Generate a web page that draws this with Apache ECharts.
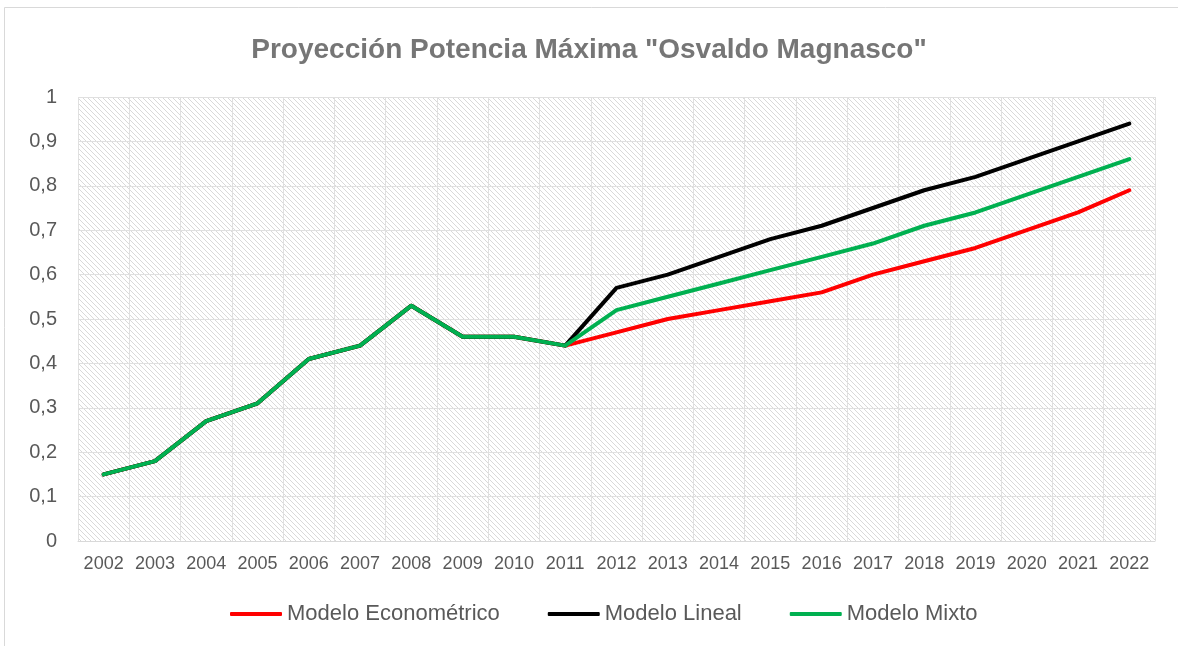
<!DOCTYPE html>
<html>
<head>
<meta charset="utf-8">
<title>Proyección Potencia Máxima</title>
<script src="https://cdn.jsdelivr.net/npm/echarts@6/dist/echarts.min.js"></script>
<style>
  html, body { margin: 0; padding: 0; background: #fff; }
  #main { width: 1178px; height: 646px; }
</style>
</head>
<body>
<div id="main"></div>
<script>
// años
var years = ['2002', '2003', '2004', '2005', '2006', '2007', '2008', '2009', '2010', '2011',
  '2012', '2013', '2014', '2015', '2016', '2017', '2018', '2019', '2020', '2021', '2022'];

// valores (2002-2011 son historicos, iguales en los tres)
var econometrico = [0.15, 0.18, 0.27, 0.31, 0.41, 0.44, 0.53, 0.46, 0.46, 0.44,
  0.47, 0.50, 0.52, 0.54, 0.56, 0.60, 0.63, 0.66, 0.70, 0.74, 0.79];
var lineal = [0.15, 0.18, 0.27, 0.31, 0.41, 0.44, 0.53, 0.46, 0.46, 0.44,
  0.57, 0.60, 0.64, 0.68, 0.71, 0.75, 0.79, 0.82, 0.86, 0.90, 0.94];
var mixto = [0.15, 0.18, 0.27, 0.31, 0.41, 0.44, 0.53, 0.46, 0.46, 0.44,
  0.52, 0.55, 0.58, 0.61, 0.64, 0.67, 0.71, 0.74, 0.78, 0.82, 0.86];

var seriesNames = ['Modelo Econométrico', 'Modelo Lineal', 'Modelo Mixto'];
var seriesColors = ['#ff0000', '#000000', '#00b050'];

// trama rayada del area de grafico
function makeHatch() {
  var n = 5;
  var c = document.createElement('canvas');
  c.width = n; c.height = n;
  var ctx = c.getContext('2d');
  ctx.fillStyle = '#ffffff';
  ctx.fillRect(0, 0, n, n);
  ctx.fillStyle = '#d9d9d9';
  for (var i = 0; i < n; i++) {
    ctx.fillRect(i, i, 1, 1);
  }
  return c;
}

var chart = echarts.init(document.getElementById('main'));

var option = {
  animation: false,
  backgroundColor: '#ffffff',
  textStyle: { fontFamily: 'Liberation Sans, Arial, sans-serif' },
  title: {
    text: 'Proyección Potencia Máxima "Osvaldo Magnasco"',
    left: 'center',
    top: 31,
    textStyle: {
      fontFamily: 'Liberation Sans, Arial, sans-serif',
      fontSize: 28,
      fontWeight: 'bold',
      color: '#767676'
    }
  },
  graphic: [{
    type: 'rect',
    silent: true,
    shape: { x: 4.5, y: 7.5, width: 1200, height: 700 },
    style: { fill: 'none', stroke: '#d9d9d9', lineWidth: 1 }
  }],
  legend: {
    data: seriesNames,
    bottom: 16,
    left: 225,
    icon: 'roundRect',
    itemWidth: 52,
    itemHeight: 4,
    itemGap: 48,
    textStyle: { fontSize: 22, color: '#595959' }
  },
  grid: {
    left: 78,
    right: 23,
    top: 97,
    bottom: 105,
    show: true,
    borderWidth: 0,
    backgroundColor: { image: makeHatch(), repeat: 'repeat' }
  },
  xAxis: {
    type: 'category',
    data: years,
    boundaryGap: true,
    axisLine: { lineStyle: { color: '#d9d9d9', width: 1 } },
    axisTick: { show: false },
    axisLabel: { fontSize: 18, color: '#595959', margin: 14, interval: 0 },
    splitLine: { show: true, interval: 0, lineStyle: { color: '#e0e0e0', width: 1 } }
  },
  yAxis: {
    type: 'value',
    min: 0,
    max: 1,
    interval: 0.1,
    axisLine: { show: false },
    axisTick: { show: false },
    axisLabel: {
      fontSize: 20,
      color: '#595959',
      margin: 21,
      formatter: function (v) { return String(Math.round(v * 10) / 10).replace('.', ','); }
    },
    splitLine: { lineStyle: { color: '#e0e0e0', width: 1 } }
  },
  series: [
    { name: seriesNames[0], type: 'line', data: econometrico },
    { name: seriesNames[1], type: 'line', data: lineal },
    { name: seriesNames[2], type: 'line', data: mixto }
  ].map(function (s, i) {
    s.symbol = 'none';
    s.color = seriesColors[i];
    s.lineStyle = { color: seriesColors[i], width: 4, cap: 'round', join: 'round' };
    return s;
  })
};

chart.setOption(option);
</script>
</body>
</html>
